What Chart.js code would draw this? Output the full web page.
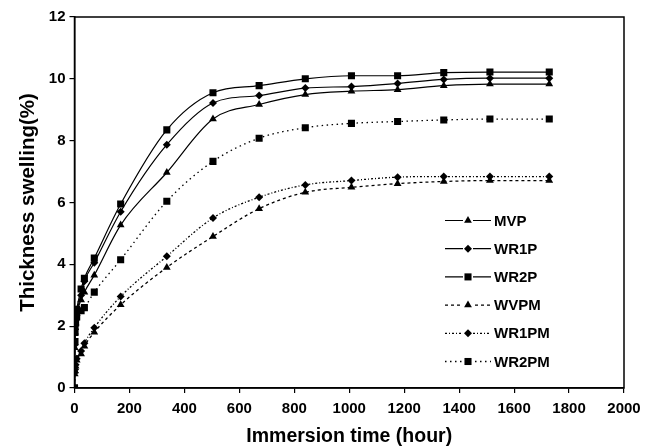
<!DOCTYPE html>
<html>
<head>
<meta charset="utf-8">
<script src="https://cdn.jsdelivr.net/npm/chart.js@4"></script>
<style>
  html, body { margin: 0; padding: 0; background: #fff; }
  #wrap { width: 649px; height: 447px; }
</style>
</head>
<body>
<div id="wrap"><canvas id="swellChart" width="649" height="447"></canvas></div>
<script>
// ===== Data =====
const hours = [0, 1, 2, 4, 8, 24, 36, 72, 168, 336, 504, 672, 840, 1008, 1176, 1344, 1512, 1728];

const mvp   = [0, 1.3, 1.8, 2.1, 2.4, 2.85, 3.1, 3.65, 5.27, 6.97, 8.70, 9.17, 9.49, 9.60, 9.65, 9.78, 9.83, 9.83];
const wr1p  = [0, 1.4, 1.9, 2.2, 2.45, 3.0, 3.45, 4.05, 5.70, 7.87, 9.22, 9.46, 9.70, 9.75, 9.85, 9.98, 10.02, 10.02];
const wr2p  = [0, 1.5, 2.0, 2.3, 2.55, 3.2, 3.55, 4.20, 5.95, 8.35, 9.55, 9.78, 10.0, 10.1, 10.1, 10.2, 10.22, 10.22];
const wvpm  = [0, 0.45, 0.55, 0.7, 0.9, 1.1, 1.35, 1.80, 2.69, 3.90, 4.90, 5.80, 6.33, 6.49, 6.61, 6.68, 6.71, 6.71];
const wr1pm = [0, 0.5, 0.6, 0.75, 0.95, 1.2, 1.45, 1.95, 2.96, 4.26, 5.50, 6.17, 6.57, 6.71, 6.82, 6.84, 6.84, 6.84];
const wr2pm = [0, 1.5, 1.8, 2.1, 2.3, 2.5, 2.6, 3.10, 4.15, 6.04, 7.33, 8.08, 8.42, 8.56, 8.62, 8.67, 8.70, 8.70];

const seriesNames = ['MVP', 'WR1P', 'WR2P', 'WVPM', 'WR1PM', 'WR2PM'];
const xTicks = [0, 200, 400, 600, 800, 1000, 1200, 1400, 1600, 1800, 2000];
const yTicks = [0, 2, 4, 6, 8, 10, 12];

// ===== Styles =====
const FONT = '"Liberation Sans", Arial, sans-serif';
const shapes = ['triangle', 'rectRot', 'rect', 'triangle', 'rectRot', 'rect'];
const radii  = [4.5, 4, 5, 4.5, 4, 5];
const dashes = [[], [], [], [3, 3], [2, 2, 1, 2], [1.5, 3.5]];

function makeSet(i, values) {
    return {
        label: seriesNames[i],
        data: hours.map((h, k) => ({ x: h, y: values[k] })),
        borderColor: '#000',
        backgroundColor: '#000',
        borderWidth: i < 3 ? 1.2 : 1.3,
        borderDash: dashes[i],
        pointStyle: shapes[i],
        pointRadius: radii[i],
        pointBorderWidth: 0,
        cubicInterpolationMode: 'monotone',
        fill: false
    };
}

// ===== Frame + inside legend =====
const framePlugin = {
    id: 'frame',
    afterDraw(chart) {
        const { ctx, chartArea: a } = chart;
        ctx.save();
        ctx.strokeStyle = '#000';
        ctx.lineWidth = 1.5;
        ctx.strokeRect(a.left, a.top, a.right - a.left, a.bottom - a.top);

        // legend inside plot area
        const x0 = 445, x1 = 491, top = 220.5, gap = 28.2;
        chart.data.datasets.forEach((ds, i) => {
            const y = top + i * gap;
            ctx.beginPath();
            ctx.setLineDash(ds.borderDash);
            ctx.lineWidth = ds.borderWidth;
            ctx.moveTo(x0, y);
            ctx.lineTo(x1, y);
            ctx.stroke();
            ctx.setLineDash([]);
            ctx.fillStyle = '#fff';
            ctx.fillRect((x0 + x1) / 2 - 5, y - 5, 10, 10);
            ctx.fillStyle = '#000';
            Chart.helpers.drawPoint(ctx, { pointStyle: ds.pointStyle, radius: ds.pointRadius, borderWidth: 0 }, (x0 + x1) / 2, y);
            ctx.font = 'bold 15px ' + FONT;
            ctx.textBaseline = 'middle';
            ctx.fillText(ds.label, 494, y + 1);
        });
        ctx.restore();
    }
};

const ctx = document.getElementById('swellChart').getContext('2d');
const swellChart = new Chart(ctx, {
    type: 'line',
    data: {
        datasets: [
            makeSet(0, mvp), makeSet(1, wr1p), makeSet(2, wr2p),
            makeSet(3, wvpm), makeSet(4, wr1pm), makeSet(5, wr2pm)
        ]
    },
    options: {
        responsive: false,
        animation: false,
        layout: { padding: { top: 17, right: 25, left: 0, bottom: 0 } },
        plugins: { legend: { display: false }, tooltip: { enabled: false } },
        scales: {
            x: {
                type: 'linear',
                min: 0, max: 2000,
                afterBuildTicks: s => { s.ticks = xTicks.map(v => ({ value: v })); },
                afterFit: s => { s.height = 59; },
                grid: { drawOnChartArea: false, drawTicks: true, tickLength: 5, color: '#000', lineWidth: 1.2 },
                border: { display: true, color: '#000', width: 1.5 },
                ticks: { color: '#000', font: { family: FONT, size: 15, weight: 'bold' }, padding: 7, maxRotation: 0, callback: v => String(v) },
                title: { display: true, text: 'Immersion time (hour)', color: '#000', font: { family: FONT, size: 19.5, weight: 'bold' }, padding: { top: 2, bottom: -1.5 } }
            },
            y: {
                type: 'linear',
                min: 0, max: 12,
                afterBuildTicks: s => { s.ticks = yTicks.map(v => ({ value: v })); },
                afterFit: s => { s.width = 74.5; },
                grid: { drawOnChartArea: false, drawTicks: true, tickLength: 5, color: '#000', lineWidth: 1.2 },
                border: { display: true, color: '#000', width: 1.5 },
                ticks: { color: '#000', font: { family: FONT, size: 15, weight: 'bold' }, padding: 4, callback: v => String(v) },
                title: { display: true, text: 'Thickness swelling(%)', color: '#000', font: { family: FONT, size: 20.5, weight: 'bold' }, padding: { top: 16, bottom: 0 } }
            }
        }
    },
    plugins: [framePlugin]
});
</script>
</body>
</html>
